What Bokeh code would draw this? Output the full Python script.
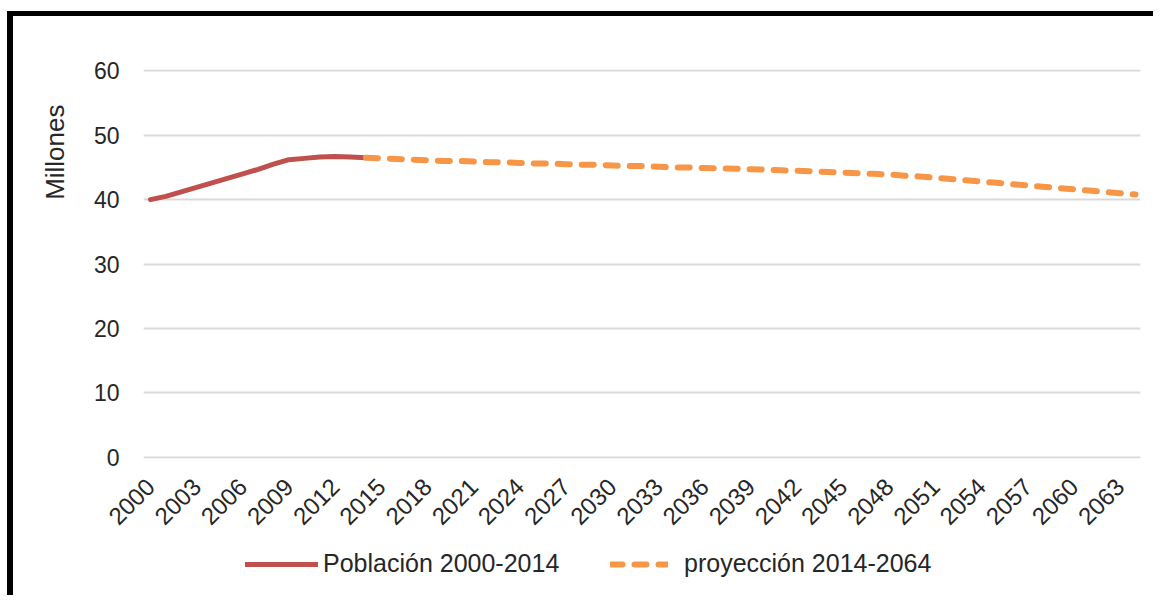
from math import pi
from bokeh.plotting import figure
from bokeh.layouts import column
from bokeh.models import FixedTicker, Legend, LegendItem, Range1d, Title
from bokeh.embed import file_html
from bokeh.resources import INLINE

# ---- data (millions) ----
years_hist = list(range(2000, 2015))
pop_hist = [40.0, 40.5, 41.2, 41.9, 42.6, 43.3, 44.0, 44.7, 45.5, 46.2,
            46.4, 46.6, 46.7, 46.6, 46.5]

years_proj = list(range(2014, 2065))
pop_proj = [46.5, 46.4, 46.3, 46.2, 46.1, 46.0, 46.0, 45.9, 45.8, 45.8,
            45.7, 45.6, 45.6, 45.5, 45.4, 45.4, 45.3, 45.2, 45.2, 45.1,
            45.0, 45.0, 44.9, 44.85, 44.8, 44.7, 44.65, 44.55, 44.5, 44.4,
            44.3, 44.2, 44.1, 44.0, 43.9, 43.7, 43.6, 43.4, 43.2, 43.0,
            42.8, 42.6, 42.4, 42.2, 42.0, 41.8, 41.6, 41.4, 41.2, 41.0,
            40.8]

tick_years = list(range(2000, 2064, 3))
y_ticks = [0, 10, 20, 30, 40, 50, 60]

label_hist = "Población 2000-2014"
label_proj = "proyección 2014-2064"
axis_title = "Millones"

FONT = "Liberation Sans"
TXT = "#262626"
RED = "#C0504D"
ORANGE = "#F79646"

p = figure(width=1146, height=524, output_backend="svg", toolbar_location=None,
           x_range=Range1d(1999.55, 2064.33), y_range=Range1d(-0.2, 60.2),
           min_border_left=130, min_border_right=19, min_border_top=53,
           min_border_bottom=82)
p.styles = {"border-left": "6px solid black", "border-top": "5px solid black",
            "margin-top": "11px", "margin-left": "7px"}
p.outline_line_color = None
p.background_fill_color = "white"
p.border_fill_color = "white"

r1 = p.line(years_hist, pop_hist, line_color=RED, line_width=5,
            line_cap="round", line_join="round")
r2 = p.line(years_proj, pop_proj, line_color=ORANGE, line_width=6,
            line_dash="12 12", line_cap="round", line_join="round")

p.xgrid.grid_line_color = None
p.ygrid.grid_line_color = "#D9D9D9"
p.ygrid.grid_line_width = 2
p.ygrid.ticker = FixedTicker(ticks=y_ticks)

p.xaxis.ticker = FixedTicker(ticks=tick_years)
p.xaxis.major_label_orientation = pi / 4
p.xaxis.major_label_standoff = 24
p.xaxis.major_label_text_font_size = "24px"
p.yaxis.ticker = FixedTicker(ticks=y_ticks)
p.yaxis.major_label_text_font_size = "23px"
p.yaxis.major_label_standoff = 24
for ax in (p.xaxis[0], p.yaxis[0]):
    ax.axis_line_color = None
    ax.major_tick_line_color = None
    ax.minor_tick_line_color = None
    ax.major_tick_out = 0
    ax.major_tick_in = 0
    ax.major_label_text_font = FONT
    ax.major_label_text_color = TXT

p.add_layout(Title(text=axis_title, align="right", vertical_align="top",
                   offset=35, standoff=38,
                   text_font=FONT, text_font_size="26px",
                   text_font_style="normal", text_color=TXT), "left")

# ---- legend strip below the chart ----
q = figure(width=1146, height=60, output_backend="svg", toolbar_location=None,
           x_axis_type=None, y_axis_type=None,
           x_range=Range1d(0, 1), y_range=Range1d(0, 1), min_border=0)
q.styles = {"border-left": "6px solid black", "margin-left": "7px"}
q.outline_line_color = None
q.grid.visible = False
q.background_fill_color = "white"
q.border_fill_color = "white"
k1 = q.line(years_hist, pop_hist, line_color=RED, line_width=5,
            line_cap="round", line_join="round")
k2 = q.line(years_proj, pop_proj, line_color=ORANGE, line_width=6,
            line_dash="12 12", line_cap="round", line_join="round")

common = dict(orientation="horizontal", glyph_height=24, label_height=24,
              padding=0, margin=0, border_line_color=None,
              background_fill_alpha=0, label_text_font=FONT,
              label_text_font_size="25px", label_text_color=TXT)
leg1 = Legend(items=[LegendItem(label=label_hist, renderers=[k1])],
              location=(102, 17), glyph_width=73, label_standoff=5, **common)
leg2 = Legend(items=[LegendItem(label=label_proj, renderers=[k2])],
              location=(467, 17), glyph_width=58, label_standoff=16, **common)
q.add_layout(leg1)
q.add_layout(leg2)

layout = column(p, q, spacing=0)
open("out.html", "w").write(file_html(layout, INLINE))
